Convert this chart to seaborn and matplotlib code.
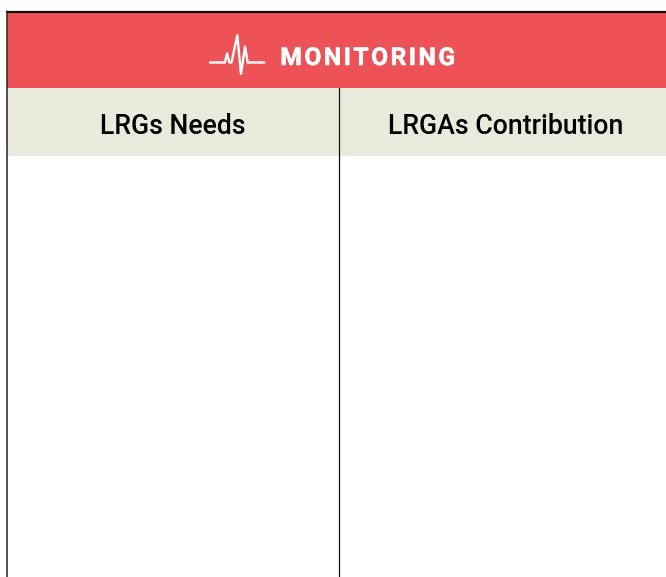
import matplotlib

matplotlib.use("Agg")
import matplotlib.patheffects as pe
import matplotlib.pyplot as plt
import pandas as pd
import seaborn as sns

title = "MONITORING"
columns = ["LRGs Needs", "LRGAs Contribution"]

# pulse icon in pixels
pulse_x = [210, 225, 227, 229.5, 231.5, 237.3, 241, 245, 247.7, 264.3]
pulse_y = [62.5, 62.5, 53.5, 62.5, 62.5, 35.3, 74, 46.7, 62.5, 62.5]

RED = "#ed5257"
BEIGE = "#e9e9dc"

sns.set_theme(style="white")
plt.rcParams["font.family"] = ["Roboto", "DejaVu Sans"]

fig, ax = plt.subplots(figsize=(6.66, 5.77), dpi=100)
fig.subplots_adjust(left=0, right=1, bottom=0, top=1)
ax.set_xlim(0, 666)
ax.set_ylim(577, 0)
ax.axis("off")

# bands
ax.fill_between([7, 666], 13, 88, color=RED, lw=0)
ax.fill_between([7, 666], 88, 155.5, color=BEIGE, lw=0)

# rules
ax.plot([6.5, 666], [12, 12], color="#111111", lw=1.6)
ax.plot([6.5, 6.5], [11, 577], color="#222222", lw=1.1)
ax.plot([339, 339], [88, 577], color="#111111", lw=0.9)

pulse = pd.DataFrame({"x": pulse_x, "y": pulse_y})
sns.lineplot(data=pulse, x="x", y="y", ax=ax, color="white", lw=1.7, sort=False,
             estimator=None)
ax.set_xlabel("")
ax.set_ylabel("")

# hair spaces stand in for the letter spacing of the title
ax.text(367.5, 55.5, "\u200a".join(title), color="white", fontsize=17.7, fontweight="bold",
        ha="center", va="center_baseline",
        path_effects=[pe.withStroke(linewidth=0.4, foreground="white")])
ax.text(173, 123.5, columns[0], color="black", fontsize=19.2, fontweight="medium",
        ha="center", va="center_baseline")
ax.text(505.5, 123.5, columns[1], color="black", fontsize=19.2, fontweight="medium",
        ha="center", va="center_baseline")

fig.savefig("out.png", dpi=100, facecolor="white")
